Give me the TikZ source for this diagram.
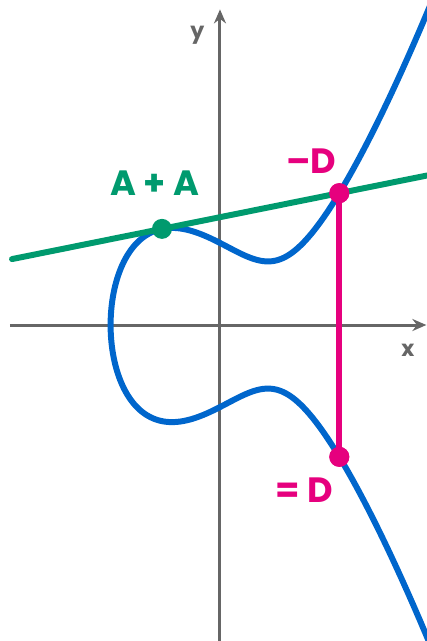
\documentclass[tikz,border=0pt]{standalone}
\usepackage{fontspec}
\setsansfont{Poppins}
\usetikzlibrary{arrows.meta, positioning, calc}
\definecolor{CurveBlue}{HTML}{0066CC}
\definecolor{TanGreen}{HTML}{009A6E}
\definecolor{PtMagenta}{HTML}{E6007E}
\definecolor{AxisGray}{HTML}{666666}

\begin{document}
\begin{tikzpicture}[
    x=0.48cm, y=0.367cm,
    font=\sffamily\bfseries,
    declare function={ecf(\u)=(\u)*(\u)*(\u)-3*(\u)+5;},
    axis/.style={-{Stealth[length=1.4mm, width=1.2mm]}, line width=0.85pt, AxisGray},
    curve/.style={line width=1.7pt, CurveBlue},
    tangent/.style={line width=1.7pt, TanGreen, line cap=round},
    vert/.style={line width=1.8pt, PtMagenta},
    dot/.style={circle, fill=#1, inner sep=0pt, minimum size=2mm},
    lbl/.style={font=\sffamily\bfseries\fontsize{10}{12}\selectfont, text=#1},
    axlbl/.style={font=\sffamily\bfseries\fontsize{6.3}{7}\selectfont, text=AxisGray},
  ]
    \def\r{-2.279}\def\uA{-1.2083}
    \pgfmathsetmacro\vA{sqrt(ecf(\uA))}
    \pgfmathsetmacro\m{(3*(\uA)*(\uA)-3)/(2*\vA)}
    \pgfmathsetmacro\uD{\m*\m-2*(\uA)}
    \pgfmathsetmacro\vD{\m*(\uD-(\uA))+\vA}
    \useasboundingbox (-4.583,-8.610) rectangle (4.3125,8.856);
    % ---- axes ----
    \draw[axis] (-4.375,0) -- (4.3,0);
    \draw[axis] (0,-8.61) -- (0,8.6);
    \node[axlbl] (lx) at (3.917,-0.681) {x};
    \node[axlbl] (ly) at (-0.47,7.9) {y};
    % ---- curve ----
    \begin{scope}
      \clip (-4.583,-8.610) rectangle (4.3125,8.856);
      \draw[curve] plot[domain=-2.62:2.62, samples=201, smooth, variable=\t]
        ({\r+(\t)*(\t)}, {sign(\t)*sqrt(max(0,ecf(\r+(\t)*(\t))))});
    \end{scope}
    % ---- points ----
    \coordinate (A) at (\uA,\vA);
    \coordinate (nD) at (\uD,\vD);
    \coordinate (pD) at (\uD,-\vD);
    \coordinate (tL) at (-4.333,{\m*(-4.333-(\uA))+\vA});
    \coordinate (tR) at (4.3125,{\m*(4.3125-(\uA))+\vA});
    % ---- tangent and vertical ----
    \draw[tangent] (tL) -- (tR);
    \node[dot=TanGreen] (Adot) at (A) {};
    \node[dot=PtMagenta] (nDdot) at (nD) {};
    \node[dot=PtMagenta] (pDdot) at (pD) {};
    \draw[vert] (nDdot.center) -- (pDdot.center);
    \fill[PtMagenta] (nD) circle[radius=1mm] (pD) circle[radius=1mm];
    % ---- labels ----
    \node[lbl=TanGreen] (lAA) at (-1.354,3.869) {A + A};
    \node[lbl=PtMagenta] (lnD) at (1.896,4.469) {–D};
    \node[lbl=PtMagenta] (lpD) at (1.75,-4.496) {= D};
\end{tikzpicture}
\end{document}
